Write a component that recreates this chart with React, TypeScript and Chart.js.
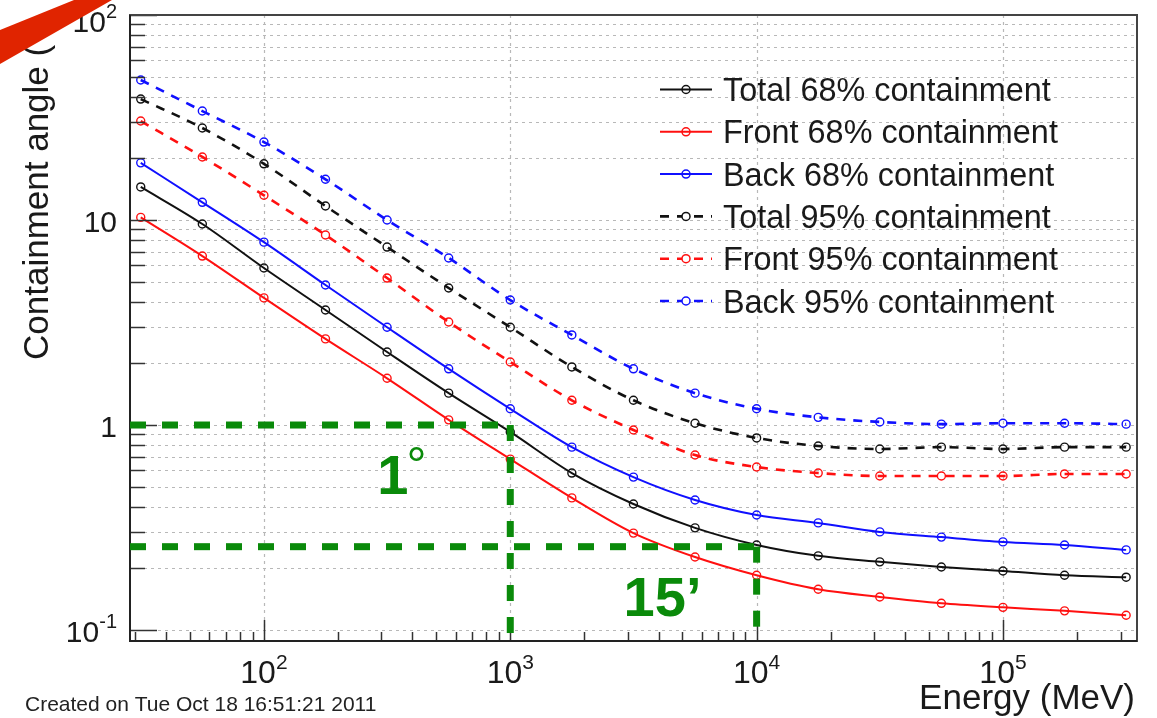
import { useEffect, useRef } from 'react';
import { Chart, registerables } from 'chart.js';

Chart.register(...registerables);

// ---------- data ----------
const energies = [31.62, 56.23, 100, 177.8, 316.2, 562.3, 1000, 1778, 3162, 5623, 10000, 17783, 31623, 56234, 100000, 177828, 316228];

const total68 = [14.5, 9.56, 5.83, 3.64, 2.27, 1.43, 0.925, 0.583, 0.412, 0.315, 0.26, 0.23, 0.215, 0.203, 0.194, 0.185, 0.181];
const front68 = [10.3, 6.67, 4.17, 2.63, 1.69, 1.06, 0.682, 0.441, 0.297, 0.227, 0.185, 0.158, 0.145, 0.135, 0.129, 0.124, 0.118];
const back68 = [19.0, 12.2, 7.8, 4.82, 3.0, 1.88, 1.2, 0.78, 0.557, 0.431, 0.364, 0.333, 0.301, 0.284, 0.269, 0.26, 0.246];
const total95 = [38.9, 28.1, 18.8, 11.7, 7.38, 4.66, 3.0, 1.92, 1.32, 1.02, 0.865, 0.79, 0.764, 0.78, 0.764, 0.78, 0.78];
const front95 = [30.4, 20.3, 13.2, 8.45, 5.21, 3.18, 2.03, 1.32, 0.946, 0.714, 0.624, 0.583, 0.564, 0.564, 0.564, 0.577, 0.577];
const back95 = [48.2, 34.0, 24.0, 15.8, 10.0, 6.53, 4.07, 2.75, 1.88, 1.43, 1.2, 1.09, 1.035, 1.01, 1.02, 1.02, 1.01];

const seriesLabels = [
  'Total 68% containment',
  'Front 68% containment',
  'Back 68% containment',
  'Total 95% containment',
  'Front 95% containment',
  'Back 95% containment',
];
const seriesValues = [total68, front68, back68, total95, front95, back95];
const seriesColors = ['#111111', '#ff1010', '#1010ff', '#111111', '#ff1010', '#1010ff'];
const seriesDashed = [false, false, false, true, true, true];

const xTickValues = [100, 1000, 10000, 100000];
const xTickBases = ['10', '10', '10', '10'];
const xTickExps = ['2', '3', '4', '5'];
const yTickValues = [0.1, 1, 10, 100];
const yTickBases = ['10', '1', '10', '10'];
const yTickExps = ['-1', '', '', '2'];

const guideEnergies = [1000, 10000];
const guideAngles = [1, 0.255];
const guideTexts = ['1', '15\u2019'];

const xTitle = 'Energy (MeV)';
const yTitle = 'Containment angle (\u00b0)';
const createdText = 'Created on Tue Oct 18 16:51:21 2011';

const X_MIN = 28.6;
const X_MAX = 350000;
const Y_MIN = 0.0884;
const Y_MAX = 100;

const FONT = '"Liberation Sans", Arial, Helvetica, sans-serif';
const GREEN = '#0a8a0a';

function logTicks(min: number, max: number) {
  const out: { v: number; major: boolean }[] = [];
  for (let e = -2; e <= 6; e++) {
    for (let m = 1; m <= 9; m++) {
      const v = m * Math.pow(10, e);
      if (v >= min * 0.999 && v <= max * 1.001) out.push({ v, major: m === 1 });
    }
  }
  return out;
}

function drawPow(ctx: any, base: string, exp: string, x: number, y: number, align: string, baseSize: number, expSize: number) {
  ctx.font = `${baseSize}px ${FONT}`;
  const wb = ctx.measureText(base).width;
  ctx.font = `${expSize}px ${FONT}`;
  const we = exp ? ctx.measureText(exp).width : 0;
  const total = wb + we;
  let start = x;
  if (align === 'center') start = x - total / 2;
  else if (align === 'right') start = x - total;
  ctx.textAlign = 'left';
  ctx.textBaseline = 'alphabetic';
  ctx.font = `${baseSize}px ${FONT}`;
  ctx.fillText(base, start, y);
  if (exp) {
    ctx.font = `${expSize}px ${FONT}`;
    ctx.fillText(exp, start + wb, y - 14);
  }
}

const decorPlugin = {
  id: 'decor',
  beforeDatasetsDraw(chart: any) {
    const { ctx, chartArea: a, scales } = chart;
    const xs = scales.x;
    const ys = scales.y;
    ctx.save();
    ctx.strokeStyle = '#b8b8b8';
    ctx.lineWidth = 1.2;
    ctx.setLineDash([3, 4]);
    for (const t of logTicks(0.1, Y_MAX)) {
      const py = Math.round(ys.getPixelForValue(t.v)) + 0.5;
      ctx.beginPath();
      ctx.moveTo(a.left, py);
      ctx.lineTo(a.right, py);
      ctx.stroke();
    }
    for (const v of xTickValues) {
      const px = Math.round(xs.getPixelForValue(v)) + 0.5;
      ctx.beginPath();
      ctx.moveTo(px, a.top);
      ctx.lineTo(px, a.bottom);
      ctx.stroke();
    }
    ctx.setLineDash([]);
    ctx.restore();
  },
  afterDatasetsDraw(chart: any) {
    const { ctx, chartArea: a, scales, data } = chart;
    const xs = scales.x;
    const ys = scales.y;
    ctx.save();

    // ticks (inward)
    ctx.strokeStyle = '#333';
    ctx.lineWidth = 1.5;
    for (const t of logTicks(0.1, Y_MAX)) {
      const py = Math.round(ys.getPixelForValue(t.v)) + 0.5;
      const len = t.major ? 27 : 15;
      ctx.beginPath();
      ctx.moveTo(a.left, py);
      ctx.lineTo(a.left + len, py);
      ctx.stroke();
    }
    for (const t of logTicks(X_MIN, X_MAX)) {
      const px = Math.round(xs.getPixelForValue(t.v)) + 0.5;
      const len = t.major ? 21 : 9;
      ctx.beginPath();
      ctx.moveTo(px, a.bottom);
      ctx.lineTo(px, a.bottom - len);
      ctx.stroke();
    }
    // frame
    ctx.lineWidth = 2;
    ctx.strokeStyle = '#444';
    ctx.strokeRect(a.left, a.top, a.right - a.left, a.bottom - a.top);
    ctx.strokeStyle = '#222';
    ctx.beginPath();
    ctx.moveTo(a.left, a.top);
    ctx.lineTo(a.left, a.bottom);
    ctx.lineTo(a.right, a.bottom);
    ctx.stroke();

    // legend
    const legX0 = 660;
    const legX1 = 712;
    const legTop = 89.5;
    const legStep = 42.3;
    data.datasets.forEach((ds: any, i: number) => {
      const y = legTop + i * legStep;
      ctx.strokeStyle = ds.borderColor;
      ctx.lineWidth = ds.borderWidth;
      ctx.setLineDash(ds.borderDash || []);
      ctx.beginPath();
      ctx.moveTo(legX0, y);
      ctx.lineTo(legX1, y);
      ctx.stroke();
      ctx.setLineDash([]);
      ctx.lineWidth = 1.5;
      ctx.fillStyle = '#fff';
      ctx.beginPath();
      ctx.arc((legX0 + legX1) / 2, y, 4, 0, Math.PI * 2);
      if (ds.borderDash && ds.borderDash.length) ctx.fill();
      ctx.stroke();
      ctx.fillStyle = '#1a1a1a';
      ctx.font = `32.4px ${FONT}`;
      ctx.textAlign = 'left';
      ctx.textBaseline = 'alphabetic';
      ctx.fillText(ds.label, 723, y + 11.5);
    });

    // green guide lines
    ctx.strokeStyle = GREEN;
    ctx.lineWidth = 7;
    ctx.setLineDash([16, 16]);
    guideEnergies.forEach((e, i) => {
      const gx = xs.getPixelForValue(e);
      const gy = ys.getPixelForValue(guideAngles[i]);
      ctx.beginPath();
      ctx.moveTo(a.left, gy);
      ctx.lineTo(gx + 3, gy);
      ctx.stroke();
      ctx.beginPath();
      ctx.moveTo(gx, gy);
      ctx.lineTo(gx, a.bottom - 4);
      ctx.stroke();
    });
    ctx.setLineDash([]);
    ctx.fillStyle = GREEN;
    ctx.textAlign = 'left';
    ctx.textBaseline = 'alphabetic';
    guideEnergies.forEach((e, i) => {
      const gx = xs.getPixelForValue(e);
      const gy = ys.getPixelForValue(guideAngles[i]);
      ctx.font = `bold 56px ${FONT}`;
      const tx = gx - 133;
      const ty = gy + 69;
      ctx.fillText(guideTexts[i], tx, ty);
      if (i === 0) {
        const w = ctx.measureText(guideTexts[i]).width;
        ctx.font = `50px ${FONT}`;
        ctx.fillText('\u00b0', tx + w - 2, ty - 12);
      }
    });
    ctx.restore();
  },
  afterDraw(chart: any) {
    const { ctx, chartArea: a, scales } = chart;
    const xs = scales.x;
    const ys = scales.y;
    ctx.save();
    ctx.fillStyle = '#1a1a1a';
    xTickValues.forEach((v, i) => {
      const px = xs.getPixelForValue(v);
      drawPow(ctx, xTickBases[i], xTickExps[i], px, 683, 'center', 32, 21);
    });
    yTickValues.forEach((v, i) => {
      const py = ys.getPixelForValue(v);
      const base = Math.max(py + 12, 32);
      drawPow(ctx, yTickBases[i], yTickExps[i], 117, base, 'right', 30, 20);
    });
    ctx.font = `35px ${FONT}`;
    ctx.textAlign = 'right';
    ctx.textBaseline = 'alphabetic';
    ctx.fillText(xTitle, a.right - 2, 709);
    ctx.save();
    ctx.translate(48, 360);
    ctx.rotate(-Math.PI / 2);
    ctx.font = `35px ${FONT}`;
    ctx.textAlign = 'left';
    ctx.fillText(yTitle, 0, 0);
    ctx.restore();
    ctx.font = `21px ${FONT}`;
    ctx.textAlign = 'left';
    ctx.fillStyle = '#222';
    ctx.fillText(createdText, 25, 711);
    // red slide stripe
    ctx.fillStyle = '#e02400';
    ctx.beginPath();
    ctx.moveTo(0, 30);
    ctx.lineTo(74, 0);
    ctx.lineTo(112, 0);
    ctx.lineTo(0, 64);
    ctx.closePath();
    ctx.fill();
    ctx.restore();
  },
};

export default function App() {
  const ref = useRef<HTMLCanvasElement | null>(null);
  useEffect(() => {
    if (!ref.current) return;
    const datasets = seriesLabels.map((label, i) => ({
      label,
      data: energies.map((e, j) => ({ x: e, y: seriesValues[i][j] })),
      borderColor: seriesColors[i],
      backgroundColor: seriesColors[i],
      borderWidth: seriesDashed[i] ? 2.6 : 2,
      borderDash: seriesDashed[i] ? [9, 8] : [],
      pointRadius: 4,
      pointBorderWidth: 1.4,
      pointBorderColor: seriesColors[i],
      pointBackgroundColor: 'rgba(255,255,255,0)',
      pointStyle: 'circle',
      cubicInterpolationMode: 'monotone' as const,
      fill: false,
    }));
    const chart = new Chart(ref.current, {
      type: 'line',
      data: { datasets },
      options: {
        animation: false,
        responsive: false,
        maintainAspectRatio: false,
        layout: { padding: { left: 130, top: 15, right: 20, bottom: 77 } },
        plugins: { legend: { display: false }, tooltip: { enabled: false } },
        scales: {
          x: { type: 'logarithmic', min: X_MIN, max: X_MAX, display: false },
          y: { type: 'logarithmic', min: Y_MIN, max: Y_MAX, display: false },
        },
      },
      plugins: [decorPlugin],
    });
    return () => chart.destroy();
  }, []);
  return (
    <div style={{ position: 'fixed', left: 0, top: 0, width: 1157, height: 718, background: '#fff' }}>
      <canvas ref={ref} width={1157} height={718} style={{ display: 'block' }} />
    </div>
  );
}
